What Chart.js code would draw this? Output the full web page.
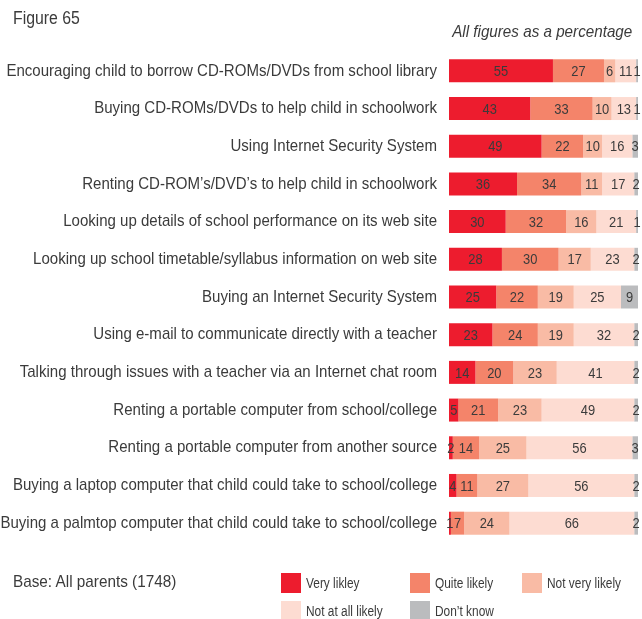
<!DOCTYPE html>
<html>
<head>
<meta charset="utf-8">
<script src="https://cdn.jsdelivr.net/npm/chart.js@4/dist/chart.umd.min.js"></script>
<style>
  body { margin: 0; background: #fff; }
  #wrap { position: relative; width: 642px; height: 619px; overflow: hidden;
          font-family: "Liberation Sans", Arial, sans-serif; color: #3b3b3b; }
  #chart { position: absolute; left: 0; top: 0; }
  .txt { position: absolute; white-space: nowrap; transform-origin: 0 0; }
  .fig { left: 13px; top: 8px; font-size: 18px; transform: scaleX(0.88); }
  .note { right: 10px; top: 22px; font-size: 17px; font-style: italic; transform-origin: 100% 0; transform: scaleX(0.895); }
  .base { left: 13px; top: 572px; font-size: 17px; transform: scaleX(0.9); }
  .leg { font-size: 14px; line-height: 20px; }
  .leg i { display: inline-block; width: 20px; height: 20px; vertical-align: top; }
  .leg span { display: inline-block; margin-left: 5px; transform-origin: 0 0; transform: scaleX(0.85); }
</style>
</head>
<body>
<div id="wrap">
  <canvas id="chart" width="642" height="619"></canvas>
  <div class="txt fig">Figure 65</div>
  <div class="txt note">All figures as a percentage</div>
  <div class="txt base">Base: All parents (1748)</div>
  <div id="legend"></div>
</div>
<script>
var categories = [
    'Encouraging child to borrow CD-ROMs/DVDs from school library',
    'Buying CD-ROMs/DVDs to help child in schoolwork',
    'Using Internet Security System',
    'Renting CD-ROM\u2019s/DVD\u2019s to help child in schoolwork',
    'Looking up details of school performance on its web site',
    'Looking up school timetable/syllabus information on web site',
    'Buying an Internet Security System',
    'Using e-mail to communicate directly with a teacher',
    'Talking through issues with a teacher via an Internet chat room',
    'Renting a portable computer from school/college',
    'Renting a portable computer from another source',
    'Buying a laptop computer that child could take to school/college',
    'Buying a palmtop computer that child could take to school/college'
];

var veryLikely    = [55, 43, 49, 36, 30, 28, 25, 23, 14, 5, 2, 4, 1];
var quiteLikely   = [27, 33, 22, 34, 32, 30, 22, 24, 20, 21, 14, 11, 7];
var notVeryLikely = [6, 10, 10, 11, 16, 17, 19, 19, 23, 23, 25, 27, 24];
var notAtAll      = [11, 13, 16, 17, 21, 23, 25, 32, 41, 49, 56, 56, 66];
var dontKnow      = [1, 1, 3, 2, 1, 2, 9, 2, 2, 2, 3, 2, 2];

var seriesNames  = ['Very likley', 'Quite likely', 'Not very likely', 'Not at all likely', 'Don\u2019t know'];
var seriesColors = ['#ed1c2e', '#f4846a', '#f9bba5', '#fddcd2', '#bbbcbe'];
var seriesData   = [veryLikely, quiteLikely, notVeryLikely, notAtAll, dontKnow];

var FONT = '"Liberation Sans", Arial, sans-serif';
var TEXT = '#3b3b3b';

// no condensed face installed, so squeeze text horizontally
function narrowText(ctx, str, x, y, squeeze) {
    ctx.save();
    ctx.translate(x, y);
    ctx.scale(squeeze, 1);
    ctx.fillText(str, 0, 0);
    ctx.restore();
}

// category names, right aligned against the bars
var categoryLabels = {
    id: 'categoryLabels',
    afterDraw: function (chart) {
        var ctx = chart.ctx, scale = chart.scales.y;
        ctx.save();
        ctx.font = '17px ' + FONT;
        ctx.fillStyle = TEXT;
        ctx.textAlign = 'right';
        ctx.textBaseline = 'middle';
        scale.ticks.forEach(function (t, i) {
            narrowText(ctx, chart.data.labels[i], chart.chartArea.left - 12, scale.getPixelForTick(i), 0.885);
        });
        ctx.restore();
    }
};

// value text centred in each segment
var segmentLabels = {
    id: 'segmentLabels',
    afterDatasetsDraw: function (chart) {
        var ctx = chart.ctx;
        ctx.save();
        ctx.font = '15px ' + FONT;
        ctx.fillStyle = TEXT;
        ctx.textAlign = 'center';
        ctx.textBaseline = 'middle';
        chart.data.datasets.forEach(function (ds, i) {
            chart.getDatasetMeta(i).data.forEach(function (bar, j) {
                narrowText(ctx, String(ds.data[j]), (bar.x + bar.base) / 2, bar.y + 1, 0.86);
            });
        });
        ctx.restore();
    }
};

var datasets = seriesData.map(function (d, i) {
    return {
        label: seriesNames[i],
        data: d,
        backgroundColor: seriesColors[i],
        borderWidth: 0,
        barPercentage: 0.61,
        categoryPercentage: 1
    };
});

new Chart(document.getElementById('chart'), {
    type: 'bar',
    data: { labels: categories, datasets: datasets },
    plugins: [segmentLabels, categoryLabels],
    options: {
        indexAxis: 'y',
        responsive: false,
        animation: false,
        layout: { padding: { top: 52, bottom: 77, right: 4, left: 0 } },
        plugins: { legend: { display: false }, tooltip: { enabled: false } },
        scales: {
            x: { stacked: true, min: 0, max: 100, display: false },
            y: {
                stacked: true,
                grid: { display: false },
                border: { display: false },
                ticks: { display: false },
                afterFit: function (scale) { scale.width = 449; }
            }
        }
    }
});

// legend grid under the bars
var legendPos = [[281, 573], [410, 573], [522, 573], [281, 601], [410, 601]];
var legend = document.getElementById('legend');
seriesNames.forEach(function (name, i) {
    var el = document.createElement('div');
    el.className = 'txt leg';
    el.style.left = legendPos[i][0] + 'px';
    el.style.top = legendPos[i][1] + 'px';
    el.innerHTML = '<i style="background:' + seriesColors[i] + '"></i><span>' + name + '</span>';
    legend.appendChild(el);
});
</script>
</body>
</html>
